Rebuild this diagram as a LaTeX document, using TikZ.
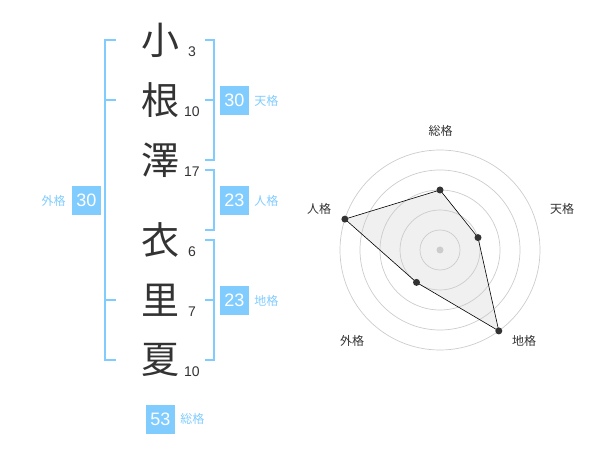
\documentclass[tikz,border=0pt]{standalone}
\usepackage{fontspec}
\setmainfont{Liberation Sans}
\newfontfamily\jpfont{Noto Sans CJK JP}
\usetikzlibrary{positioning}
\definecolor{skyline}{HTML}{80CCFF}
\definecolor{inkgray}{HTML}{333333}
\definecolor{ringgray}{HTML}{CCCCCC}
\definecolor{areagray}{HTML}{F0F0F0}

\begin{document}
\begin{tikzpicture}[x=1pt,y=-1pt,
    kanji/.style={font=\jpfont\fontsize{38}{38}\selectfont, text=inkgray, inner sep=0pt},
    strokes/.style={font=\fontsize{14}{14}\selectfont, text=inkgray, inner sep=0pt},
    scorebox/.style={fill=skyline, text=white, minimum size=29pt, inner sep=0pt, font=\fontsize{18}{18}\selectfont},
    scorename/.style={font=\jpfont\fontsize{12}{12}\selectfont, text=skyline, inner sep=0pt},
    bracket/.style={draw=skyline, line width=2pt},
    ring/.style={draw=ringgray, line width=0.7pt},
    axisname/.style={font=\jpfont\fontsize{12}{12}\selectfont, text=inkgray, inner sep=0pt},
    dot/.style={circle, fill=inkgray, inner sep=0pt, minimum size=7pt}]
    \useasboundingbox (0,0) rectangle (600,470);

    % Name characters
    \node[kanji] (c1) at (160,40) {小};
    \node[kanji] (c2) at (160,100) {根};
    \node[kanji] (c3) at (160,160) {澤};
    \node[kanji] (c4) at (160,240) {衣};
    \node[kanji] (c5) at (160,300) {里};
    \node[kanji] (c6) at (160,360) {夏};

    % Stroke counts
    \node[strokes] (n1) at (192,52) {3};
    \node[strokes] (n2) at (192,112) {10};
    \node[strokes] (n3) at (192,172) {17};
    \node[strokes] (n4) at (192,252) {6};
    \node[strokes] (n5) at (192,312) {7};
    \node[strokes] (n6) at (192,372) {10};

    % Brackets
    \draw[bracket] (116,40) -- (105,40) -- (105,360) -- (116,360);
    \draw[bracket] (105,100) -- (116,100);
    \draw[bracket] (105,300) -- (116,300);
    \draw[bracket] (205,40) -- (214,40) -- (214,160) -- (205,160);
    \draw[bracket] (205,100) -- (214,100);
    \draw[bracket] (205,170) -- (214,170) -- (214,230) -- (205,230);
    \draw[bracket] (205,240) -- (214,240) -- (214,360) -- (205,360);
    \draw[bracket] (205,300) -- (214,300);

    % Scores
    \node[scorebox] (ten) at (234.5,100.5) {30};
    \node[scorename, right=5pt of ten] (tenname) {天格};
    \node[scorebox] (jin) at (234.5,200.5) {23};
    \node[scorename, right=5pt of jin] (jinname) {人格};
    \node[scorebox] (chi) at (234.5,300.5) {23};
    \node[scorename, right=5pt of chi] (chiname) {地格};
    \node[scorebox] (gai) at (86.5,200.5) {30};
    \node[scorename, left=6pt of gai] (gainame) {外格};
    \node[scorebox] (sou) at (160.5,419) {53};
    \node[scorename, right=5pt of sou] (souname) {総格};

    % Radar chart
    \coordinate (c) at (440,250);
    \coordinate (pa) at (440,190);
    \coordinate (pb) at (478,237.6);
    \coordinate (pc) at (498.8,330.9);
    \coordinate (pd) at (416.5,282.4);
    \coordinate (pe) at (344.9,219.1);
    \fill[areagray] (pa) -- (pb) -- (pc) -- (pd) -- (pe) -- cycle;
    \foreach \r in {20,40,...,100}
        \draw[ring] (c) circle (\r);
    \draw[line width=0.6pt] (pa) -- (pb) -- (pc) -- (pd) -- (pe) -- cycle;
    \fill[ringgray] (c) circle (3.5);
    \foreach \p in {pa,pb,pc,pd,pe}
        \node[dot] at (\p) {};

    \node[axisname] (la) at (440.5,131) {総格};
    \node[axisname] (lb) at (562,209) {天格};
    \node[axisname] (lc) at (524,341) {地格};
    \node[axisname] (ld) at (352,341) {外格};
    \node[axisname] (le) at (319,209) {人格};

\end{tikzpicture}
\end{document}
